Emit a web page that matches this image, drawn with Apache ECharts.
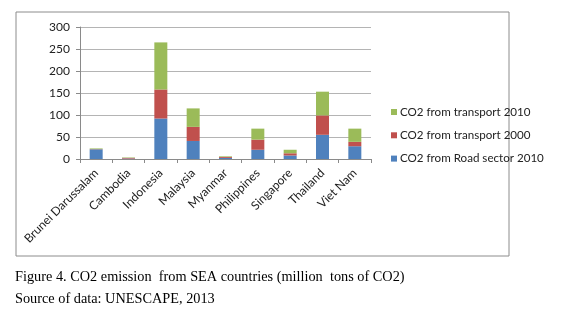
<!DOCTYPE html>
<html>
<head>
<meta charset="utf-8">
<script src="https://cdn.jsdelivr.net/npm/echarts@6/dist/echarts.min.js"></script>
<style>
  html, body { margin: 0; padding: 0; background: #fff; }
  #chart { width: 573px; height: 322px; }
</style>
</head>
<body>
<div id="chart"></div>
<script>
// Countries on the category axis
const countries = ['Brunei Darussalam', 'Cambodia', 'Indonesia', 'Malaysia', 'Myanmar',
                   'Philippines', 'Singapore', 'Thailand', 'Viet Nam'];

// CO2 emissions, million tons of CO2
const roadSector2010 = [22, 1, 92, 41, 2.5, 21, 8, 55, 29];
const transport2000  = [0.5, 1.5, 66, 32, 2, 23, 5, 44, 10];
const transport2010  = [1.5, 1, 107, 42, 1.5, 25, 8, 54, 30];

const yTicks = [0, 50, 100, 150, 200, 250, 300];

const seriesNames = ['CO2 from Road sector 2010', 'CO2 from transport 2000', 'CO2 from transport 2010'];

const captionLine = 'Figure 4. CO2 emission  from SEA countries (million  tons of CO2)';
const sourceLine = 'Source of data: UNESCAPE, 2013';

const uiFont = 'Lato, "Open Sans", sans-serif';
const serifFont = '14.3px "Liberation Serif", "Times New Roman", serif';

const chart = echarts.init(document.getElementById('chart'), null, { renderer: 'canvas' });

function barSeries(name, data, color) {
  return {
    name: name,
    type: 'bar',
    stack: 'total',
    data: data,
    barWidth: 13,
    itemStyle: { color: color },
    emphasis: { disabled: true }
  };
}

chart.setOption({
  animation: false,
  grid: { left: 80, right: 202, top: 27, bottom: 163, containLabel: false },
  legend: {
    orient: 'vertical',
    left: 386,
    top: 100,
    data: ['CO2 from transport 2010', 'CO2 from transport 2000', 'CO2 from Road sector 2010'],
    icon: 'rect',
    itemWidth: 6,
    itemHeight: 6,
    itemGap: 9.3,
    textStyle: { fontFamily: uiFont, fontSize: 11.6, color: '#222', lineHeight: 14, padding: [0, 0, 0, -2] },
    selectedMode: false
  },
  xAxis: {
    type: 'category',
    data: countries,
    boundaryGap: true,
    axisLine: { show: true, lineStyle: { color: '#8a8a8a', width: 1 } },
    axisTick: { show: true, length: 4, alignWithLabel: false, lineStyle: { color: '#8a8a8a' } },
    axisLabel: {
      interval: 0,
      rotate: 45,
      margin: 12,
      fontFamily: uiFont,
      fontSize: 12,
      color: '#222'
    }
  },
  yAxis: {
    type: 'value',
    min: yTicks[0],
    max: yTicks[yTicks.length - 1],
    interval: 50,
    axisLine: { show: true, lineStyle: { color: '#8a8a8a', width: 1 } },
    axisTick: { show: true, length: 4, lineStyle: { color: '#8a8a8a' } },
    axisLabel: {
      margin: 10,
      fontFamily: uiFont,
      fontSize: 12,
      color: '#222'
    },
    splitLine: { show: true, lineStyle: { color: '#b4b4b4', width: 1 } }
  },
  series: [
    barSeries(seriesNames[0], roadSector2010, '#4F81BD'),
    barSeries(seriesNames[1], transport2000, '#C0504D'),
    barSeries(seriesNames[2], transport2010, '#9BBB59')
  ],
  graphic: [
    {
      type: 'rect',
      shape: { x: 16, y: 12, width: 493, height: 244 },
      style: { fill: 'none', stroke: '#8c8c8c', lineWidth: 1 },
      silent: true,
      z: -1
    },
    {
      type: 'text',
      left: 15,
      top: 270,
      style: { text: captionLine, font: serifFont, fill: '#000' }
    },
    {
      type: 'text',
      left: 15,
      top: 292,
      style: { text: sourceLine, font: serifFont, fill: '#000' }
    }
  ]
});
</script>
</body>
</html>
